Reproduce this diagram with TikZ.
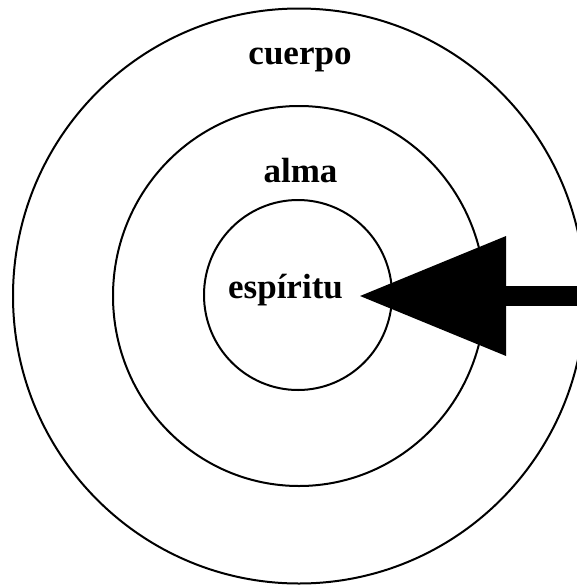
\documentclass[tikz,border=0pt]{standalone}
\usepackage{fontspec}
\setmainfont{Liberation Serif}
\usetikzlibrary{arrows.meta}
\tikzset{
  ring/.style={draw,line width=2pt},
  lbl/.style={font=\fontsize{35}{42}\selectfont\bfseries,inner sep=0pt},
  pointer/.style={line width=20pt,-{Triangle[length=146pt,width=120pt,line width=0pt]}},
}

\begin{document}
\begin{tikzpicture}[x=1pt,y=-1pt]
  \clip (0,0) rectangle (577,587);
  % three rings
  \draw[ring] (299,296) ellipse [x radius=286,y radius=287.5];
  \draw[ring] (299,296) ellipse [x radius=186,y radius=190];
  \draw[ring] (298,295) ellipse [x radius=94,y radius=95];
  % labels
  \node[lbl,anchor=base] (cuerpo) at (300,64) {cuerpo};
  \node[lbl,anchor=base] (alma) at (300.5,182) {alma};
  \node[lbl,anchor=base,inner xsep=17pt] (esp) at (285.5,298) {espíritu};
  % big arrow
  \coordinate (src) at (577,296);
  \draw[pointer] (src) -- (esp.east |- src);
\end{tikzpicture}
\end{document}
